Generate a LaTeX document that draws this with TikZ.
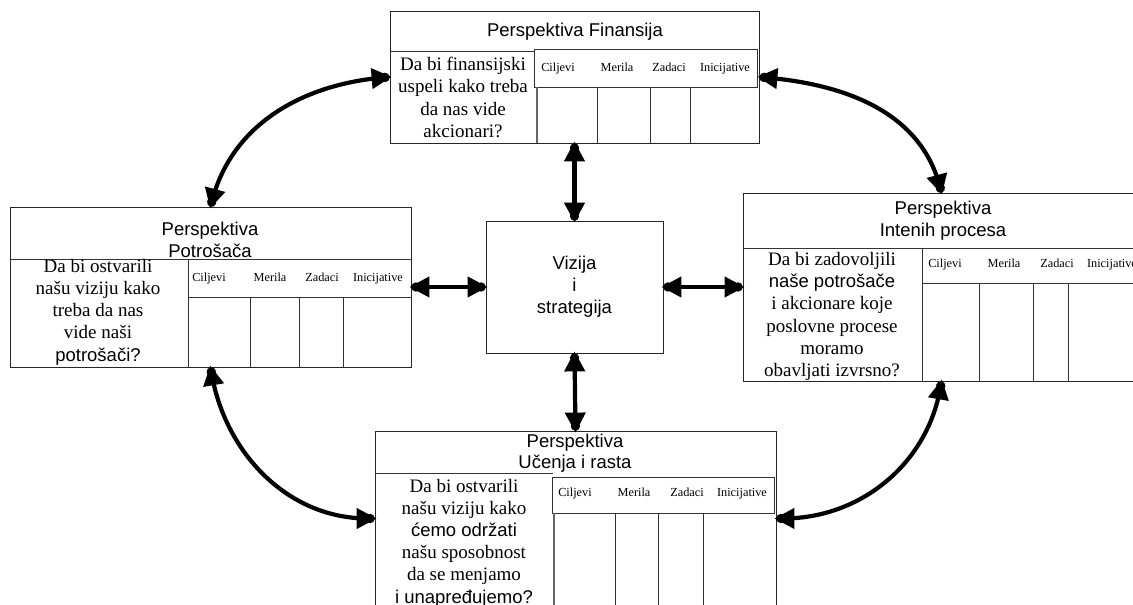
\documentclass[tikz,border=0pt]{standalone}
\usepackage{fontspec}
\setmainfont{Liberation Serif}
\setsansfont{Liberation Sans}
\usetikzlibrary{arrows.meta}

\begin{document}
\begin{tikzpicture}[x=1pt,y=1pt,
  box/.style={draw=black!85, line width=0.8pt, inner sep=0pt, anchor=center},
  grid/.style={draw=black!80, line width=0.8pt},
  colline/.style={draw=black!60, line width=1.2pt},
  title/.style={inner sep=0pt, align=center, font=\sffamily\fontsize{18.5}{21.5}\selectfont},
  question/.style={inner sep=0pt, align=center, font=\fontsize{19}{22.2}\selectfont},
  head/.style={inner sep=0pt, text height=8.5pt, text depth=2.5pt, font=\fontsize{12.3}{14}\selectfont},
  arr/.style={line width=4.2pt, black,
    {Circle[length=9pt]Triangle[length=20pt,width=20pt,sep=-11pt]}-{Triangle[length=20pt,width=20pt,sep=-11pt]Circle[length=9pt]}}
]
\useasboundingbox (0,0) rectangle (1133,605);
\clip (0,0) rectangle (1133,605);

% ---- the five blocks ----
\node[box, minimum width=369, minimum height=132] (fin) at (574.5,528) {};
\node[box, minimum width=401, minimum height=160] (pot) at (210.5,318) {};
\node[box, minimum width=397, minimum height=188] (int) at (941.5,318) {};
\node[box, minimum width=401, minimum height=189] (uce) at (575.5,79.5) {};
\node[box, minimum width=177, minimum height=132, align=center,
      font=\sffamily\fontsize{18.5}{22}\selectfont] (viz) at (574.5,318) {Vizija\\i\\strategija};

% ---- Finansije: title, question, table ----
\node[title] (finT) at (575,573) {Perspektiva Finansija};
\draw[grid] (390,554) -- (534,554);
\draw[grid] (534,556) rectangle (757,518);
\draw[colline] (537,518) -- (537,462);
\foreach \x in {597,650,690} \draw[grid] (\x,518) -- (\x,462);
\node[head] (finH1) at (558,536) {Ciljevi};
\node[head] (finH2) at (617,536) {Merila};
\node[head] (finH3) at (669,536) {Zadaci};
\node[head] (finH4) at (725,536) {Inicijative};
\node[question] (finQ) at (463,507.5) {Da bi finansijski\\uspeli kako treba\\da nas vide\\akcionari?};

% ---- Potrošači ----
\node[title] (potT) at (210,365) {Perspektiva\\Potrošača};
\draw[grid] (10,346) -- (411,346);
\draw[grid] (188,308) -- (411,308);
\draw[grid] (188,346) -- (188,238);
\foreach \x in {250,299,343} \draw[grid] (\x,308) -- (\x,238);
\node[head] (potH1) at (209,326) {Ciljevi};
\node[head] (potH2) at (270,326) {Merila};
\node[head] (potH3) at (322,326) {Zadaci};
\node[head] (potH4) at (378,326) {Inicijative};
\node[question] (potQ) at (98,293) {Da bi ostvarili\\našu viziju kako\\treba da nas\\vide naši\\{\sffamily\fontsize{18.5}{22.2}\selectfont potrošači?}};

% ---- Interni procesi ----
\node[title] (intT) at (943,384.5) {Perspektiva\\Intenih procesa};
\draw[grid] (743,357) -- (1140,357);
\draw[grid] (922,322) -- (1140,322);
\draw[grid] (922,357) -- (922,224);
\foreach \x in {979,1033,1068} \draw[grid] (\x,322) -- (\x,224);
\node[head] (intH1) at (945,340) {Ciljevi};
\node[head] (intH2) at (1004,340) {Merila};
\node[head] (intH3) at (1057,340) {Zadaci};
\node[head] (intH4) at (1112,340) {Inicijative};
\node[question] (intQ) at (832,288.5) {Da bi zadovoljili\\{\sffamily\fontsize{18.5}{22.2}\selectfont naše potrošače}\\i akcionare koje\\poslovne procese\\moramo\\obavljati izvrsno?};

% ---- Učenje i rast ----
\node[title] (uceT) at (575,152) {Perspektiva\\Učenja i rasta};
\draw[grid] (375,132) -- (553,132);
\draw[grid] (552,128) rectangle (774,92);
\draw[colline] (554,92) -- (554,-15);
\foreach \x in {615,658,703} \draw[grid] (\x,92) -- (\x,-15);
\node[head] (uceH1) at (575,111) {Ciljevi};
\node[head] (uceH2) at (634,111) {Merila};
\node[head] (uceH3) at (687,111) {Zadaci};
\node[head] (uceH4) at (742,111) {Inicijative};
\node[question] (uceQ) at (464,62) {Da bi ostvarili\\našu viziju kako\\{\sffamily\fontsize{18.5}{22.2}\selectfont ćemo održati}\\našu sposobnost\\da se menjamo\\{\sffamily\fontsize{18.5}{22.2}\selectfont i unapređujemo?}};

% ---- connectors ----
\draw[arr] (fin.west) to[out=185,in=75] (pot.north);
\draw[arr] (fin.east) to[out=-5,in=105] (int.north);
\draw[arr] (pot.south) to[out=-80,in=180] ([yshift=7]uce.west);
\draw[arr] ([yshift=7]uce.east) to[out=0,in=-100] (int.south);
\draw[arr] (pot.east) -- (viz.west);
\draw[arr] (viz.east) -- (int.west);
\draw[arr] (fin.south) -- (viz.north);
\draw[arr] (viz.south) -- (uce.north);
\end{tikzpicture}
\end{document}
